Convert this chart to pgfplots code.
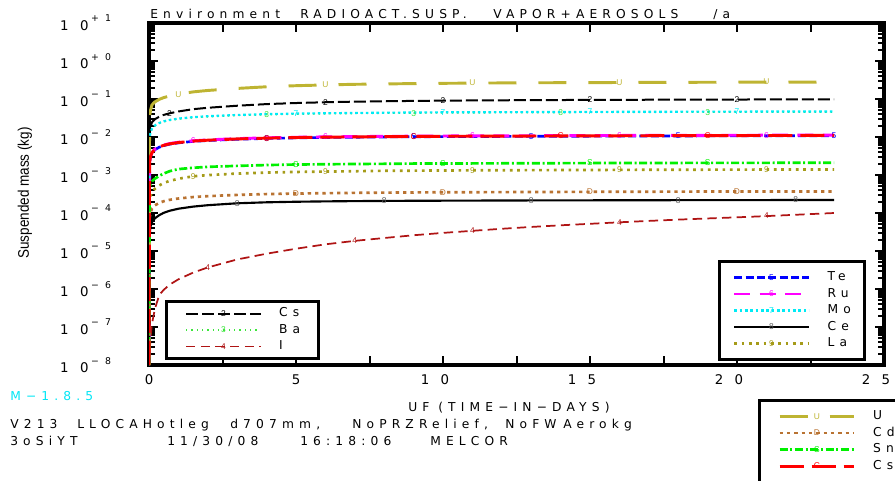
\documentclass[border=0pt]{standalone}
\usepackage{fontspec}
\usepackage{pgfplots}
\usepackage{pgfplotstable}
\pgfplotsset{compat=1.18}
\setmainfont{Liberation Sans}
\newfontfamily\widef[LetterSpace=42]{DejaVu Sans}
\newfontfamily\dejav{DejaVu Sans}
\newfontfamily\narrowf[FakeStretch=0.88]{Liberation Sans}
\newcommand{\txf}{\widef\fontsize{9.2}{10}\selectfont}
\newcommand{\tkf}{\dejav\fontsize{10}{12}\selectfont}
\newcommand{\spf}{\dejav\fontsize{7}{8}\selectfont}
\newcommand{\mkf}{\normalfont\fontsize{6.3}{7}\selectfont}
\newcommand{\ylf}{\narrowf\fontsize{11.5}{13}\selectfont}
\newcommand{\yt}[2]{1\hspace{8.5pt}0\hspace{2pt}\raisebox{6.5pt}{\spf #1\hspace{4.5pt}#2}}
\newcommand{\xtt}[2]{#1\hspace{8.5pt}#2\kern12pt}
\newcommand{\tm}[2]{{\mkf\color{#1}#2}}
\definecolor{cU}{RGB}{190,180,50}
\definecolor{cMo}{RGB}{0,235,245}
\definecolor{cBa}{RGB}{60,230,60}
\definecolor{cTe}{RGB}{0,0,255}
\definecolor{cRu}{RGB}{255,0,255}
\definecolor{cCsI}{RGB}{255,0,0}
\definecolor{cSn}{RGB}{0,240,0}
\definecolor{cLa}{RGB}{165,155,25}
\definecolor{cCd}{RGB}{185,115,50}
\definecolor{cI}{RGB}{175,20,20}
\definecolor{cM}{RGB}{0,230,245}
\definecolor{cCe}{RGB}{90,90,90}

\pgfplotstableread{
t U Cs Mo Ba Te Ru CsI Sn La Cd Ce I
0 1e-8 1e-8 1e-8 1e-8 1e-8 1e-8 1e-8 1e-8 1e-8 1e-8 1e-8 1e-8
0.02 .034 .0118 .0094 .009 .00216 .00224 .0022 .00042 .00021 .000074 .0000264 2e-8
0.05 .05 .0176 .0132 .0126 .00302 .00314 .00308 .00059 .00028 .000104 .000044 5e-8
0.1 .07 .0245 .0165 .0158 .00378 .00392 .00385 .00069 .00035 .00013 .0000572 1.2e-7
0.2 .084 .0294 .0202 .0194 .00464 .00482 .00473 .0008 .000434 .000159 .0000726 3e-7
0.35 .098 .0343 .0235 .0225 .0054 .0056 .0055 .00095 .000532 .000185 .000088 7e-7
0.5 .109 .0382 .0259 .0248 .00594 .00616 .00605 .00109 .000616 .000204 .0001012 9.5e-7
0.7 .12 .0421 .0282 .027 .00648 .00672 .0066 .00126 .0007 .000222 .0001144 1.3e-6
1 .134 .047 .0306 .0293 .00702 .00728 .00715 .00143 .000798 .000241 .0001298 1.8e-6
1.5 .154 .054 .0334 .032 .00767 .00795 .00781 .00155 .000924 .000263 .0001474 2.7e-6
2 .168 .0588 .0353 .0338 .0081 .0084 .00825 .00164 .000994 .000278 .0001606 3.7e-6
3 .19 .0666 .0381 .0365 .00875 .00907 .00891 .00174 .001092 .0003 .0001804 6e-6
4 .21 .0735 .04 .0383 .00918 .00952 .00935 .00183 .001162 .000315 .0001914 8.5e-6
5 .224 .0784 .0414 .0396 .0095 .00986 .00968 .00189 .001204 .000326 .000198 1.15e-5
6 .235 .0823 .0423 .0405 .00972 .01008 .0099 .00192 .001232 .000333 .0002024 1.5e-5
7 .244 .0853 .043 .0412 .00988 .01025 .01007 .00195 .00126 .000339 .0002057 1.85e-5
8 .249 .0872 .0437 .0419 .01004 .01042 .01023 .00197 .001288 .000344 .0002079 2.2e-5
9 .255 .0892 .0442 .0423 .01015 .01053 .01034 .002 .001302 .000348 .0002101 2.6e-5
10 .259 .0907 .0447 .0428 .01026 .01064 .01045 .002 .001316 .000352 .0002112 3e-5
11 .262 .0916 .0449 .043 .01031 .0107 .01051 .00202 .00133 .000353 .0002123 3.4e-5
12 .265 .0926 .0451 .0432 .01037 .01075 .01056 .00203 .001337 .000355 .0002134 3.85e-5
13 .267 .0934 .0454 .0434 .01042 .01081 .01062 .00204 .001344 .000357 .0002145 4.3e-5
14 .269 .0941 .0456 .0437 .01048 .01086 .01067 .00205 .001351 .000359 .0002152 4.75e-5
15 .27 .0947 .0458 .0439 .01053 .01092 .01073 .00206 .001358 .000361 .0002158 5.2e-5
16 .272 .0953 .0461 .0441 .01058 .01098 .01078 .00207 .001365 .000363 .0002165 5.7e-5
17 .274 .0957 .0462 .0443 .01063 .01102 .01082 .00207 .001372 .000364 .0002171 6.2e-5
18 .275 .0962 .0464 .0445 .01067 .01107 .01087 .00208 .001378 .000366 .0002178 6.7e-5
19 .276 .0966 .0466 .0446 .0107 .0111 .0109 .00209 .001383 .000367 .0002182 7.2e-5
20 .277 .097 .0467 .0447 .01074 .01113 .01093 .00209 .001387 .000368 .0002187 7.7e-5
21 .278 .0973 .0468 .0448 .01076 .01116 .01096 .00209 .001392 .000369 .0002191 8.3e-5
22 .279 .0976 .0469 .0449 .01078 .01118 .01098 .0021 .001396 .000369 .0002196 9e-5
23.3 .28 .098 .047 .045 .0108 .0112 .011 .0021 .0014 .00037 .00022 1e-4
}\data

\pgfplotsset{
 legend image code/.code={\draw[mark repeat=2,mark phase=2,#1] plot coordinates {(0pt,0pt) (28pt,0pt) (56pt,0pt)};},
 legend cell align=left,
 every axis legend/.append style={font=\txf, draw=black, line width=2.2pt, fill=white,
     inner xsep=14pt, row sep=4.4pt, column sep=13pt,
     nodes={inner sep=0pt, text height=6.3pt, text depth=1.7pt}},
}

\begin{document}
\begin{tikzpicture}[x=0.75pt,y=-0.75pt]
\path[use as bounding box] (0,0) rectangle (895,480);
\clip (0,0) rectangle (895,480);
\coordinate (O) at (149,365);

% axis A: Cs, Ba, I
\begin{axis}[at={(O)}, anchor=south west, scale only axis,
  width=551.25pt, height=256.5pt,
  xmin=0, xmax=25, ymode=log, ymin=1e-8, ymax=10,
  axis line style={line width=3.4pt},
  tick align=inside, tick pos=both,
  major tick length=7pt, minor tick length=4.5pt,
  every tick/.style={black, line width=1.5pt},
  xtick={0,2.5,...,25},
  xticklabels={0,,5,,\xtt{1}{0},,\xtt{1}{5},,\xtt{2}{0},,\xtt{2}{5}},
  xticklabel style={font=\tkf, yshift=-4pt},
  ytick={1e-8,1e-7,1e-6,1e-5,1e-4,1e-3,1e-2,1e-1,1,10},
  minor ytick={2e-8,3e-8,4e-8,5e-8,6e-8,7e-8,8e-8,9e-8,
    2e-7,3e-7,4e-7,5e-7,6e-7,7e-7,8e-7,9e-7,
    2e-6,3e-6,4e-6,5e-6,6e-6,7e-6,8e-6,9e-6,
    2e-5,3e-5,4e-5,5e-5,6e-5,7e-5,8e-5,9e-5,
    2e-4,3e-4,4e-4,5e-4,6e-4,7e-4,8e-4,9e-4,
    2e-3,3e-3,4e-3,5e-3,6e-3,7e-3,8e-3,9e-3,
    2e-2,3e-2,4e-2,5e-2,6e-2,7e-2,8e-2,9e-2,
    2e-1,3e-1,4e-1,5e-1,6e-1,7e-1,8e-1,9e-1,
    2,3,4,5,6,7,8,9},
  yticklabels={\yt{−}{8},\yt{−}{7},\yt{−}{6},\yt{−}{5},\yt{−}{4},\yt{−}{3},\yt{−}{2},\yt{−}{1},\yt{+}{0},\yt{+}{1}},
  yticklabel style={font=\tkf, xshift=-25pt},
  legend style={at={(0.0218,0.190)}, anchor=north west, inner ysep=5pt},
]
\addplot[black, line width=1.5pt, dash pattern=on 9pt off 3pt, legend image post style={mark=text, text mark={\tm{black}{2}}}] table[x=t,y=Cs]{\data};
\addlegendentry{Cs}
\addplot[only marks, mark=text, text mark={\tm{black}{2}}, mark indices={8,15,19,24,29}, forget plot] table[x=t,y=Cs]{\data};
\addplot[cBa, line width=0.9pt, dash pattern=on 1pt off 3pt, legend image post style={mark=text, text mark={\tm{cBa}{3}}}] table[x=t,y=Ba]{\data};
\addlegendentry{Ba}
\addplot[cI, line width=1.3pt, dash pattern=on 7pt off 4pt, legend image post style={mark=text, text mark={\tm{cI}{4}}}] table[x=t,y=I]{\data};
\addlegendentry{I}
\addplot[only marks, mark=text, text mark={\tm{cI}{4}}, mark indices={11,16,20,25,30}, forget plot] table[x=t,y=I]{\data};
\end{axis}

% axis B: Te, Ru, Mo, Ce, La
\begin{axis}[at={(O)}, anchor=south west, scale only axis,
  width=551.25pt, height=256.5pt,
  xmin=0, xmax=25, ymode=log, ymin=1e-8, ymax=10, hide axis,
  legend style={at={(0.774,0.307)}, anchor=north west, inner ysep=8pt, inner xsep=10pt},
]
\addplot[cTe, line width=2pt, dash pattern=on 6pt off 2.5pt, legend image post style={mark=text, text mark={\tm{cTe}{5}}}] table[x=t,y=Te]{\data};
\addlegendentry{Te}
\addplot[only marks, mark=text, text mark={\tm{cTe}{5}}, mark indices={13,18,22,27,32}, forget plot] table[x=t,y=Te]{\data};
\addplot[cRu, line width=2.2pt, dash pattern=on 12pt off 7pt, legend image post style={mark=text, text mark={\tm{cRu}{6}}}] table[x=t,y=Ru]{\data};
\addlegendentry{Ru}
\addplot[only marks, mark=text, text mark={\tm{cRu}{6}}, mark indices={10,15,20,25,30}, forget plot] table[x=t,y=Ru]{\data};
\addplot[cMo, line width=1.6pt, dash pattern=on 2pt off 2pt, legend image post style={mark=text, text mark={\tm{cMo}{7}}}] table[x=t,y=Mo]{\data};
\addlegendentry{Mo}
\addplot[only marks, mark=text, text mark={\tm{cMo}{7}}, mark indices={14,19,24,29}, forget plot] table[x=t,y=Mo]{\data};
\addplot[black, line width=1.6pt, legend image post style={mark=text, text mark={\tm{cCe}{8}}}] table[x=t,y=Ce]{\data};
\addlegendentry{Ce}
\addplot[only marks, mark=text, text mark={\tm{cCe}{8}}, mark indices={12,17,22,27,31}, forget plot] table[x=t,y=Ce]{\data};
\addplot[cLa, line width=2pt, dash pattern=on 2pt off 3.5pt, legend image post style={mark=text, text mark={\tm{cLa}{9}}}] table[x=t,y=La]{\data};
\addlegendentry{La}
\addplot[only marks, mark=text, text mark={\tm{cLa}{9}}, mark indices={10,15,20,25,30}, forget plot] table[x=t,y=La]{\data};
\end{axis}

% axis C: U, Cd, Sn, CsI
\begin{axis}[at={(O)}, anchor=south west, scale only axis,
  width=551.25pt, height=256.5pt,
  xmin=0, xmax=25, ymode=log, ymin=1e-8, ymax=10, hide axis,
  legend style={at={(0.8286,-0.0994)}, anchor=north west, inner ysep=8pt},
]
\addplot[only marks, mark=text, text mark={\tm{cBa}{3}}, mark indices={13,18,23,28}, forget plot] table[x=t,y=Ba]{\data};
\addplot[cU, line width=2.2pt, dash pattern=on 21pt off 16.5pt, legend image post style={mark=text, text mark={\tm{cU}{U}}}] table[x=t,y=U]{\data};
\addlegendentry{U}
\addplot[only marks, mark=text, text mark={\tm{cU}{U}}, mark indices={9,15,20,25,30}, forget plot] table[x=t,y=U]{\data};
\addplot[cCd, line width=2pt, dash pattern=on 2.5pt off 3pt, legend image post style={mark=text, text mark={\tm{cCd}{D}}}] table[x=t,y=Cd]{\data};
\addlegendentry{Cd}
\addplot[only marks, mark=text, text mark={\tm{cCd}{D}}, mark indices={14,19,24,29}, forget plot] table[x=t,y=Cd]{\data};
\addplot[cSn, line width=2pt, dash pattern=on 6pt off 2pt on 1.5pt off 2pt, legend image post style={mark=text, text mark={\tm{cSn}{S}}}] table[x=t,y=Sn]{\data};
\addlegendentry{Sn}
\addplot[only marks, mark=text, text mark={\tm{cSn}{S}}, mark indices={14,19,24,28}, forget plot] table[x=t,y=Sn]{\data};
\addplot[cCsI, line width=2.2pt, dash pattern=on 18pt off 6pt, legend image post style={mark=text, text mark={\tm{cCsI}{C}}}] table[x=t,y=CsI]{\data};
\addlegendentry{CsI}
\addplot[only marks, mark=text, text mark={\tm{cCsI}{C}}, mark indices={13,18,23,28}, forget plot] table[x=t,y=CsI]{\data};
\end{axis}

% texts
\node[anchor=base west, font=\txf, inner sep=0pt] at (150,18) {Environment};
\node[anchor=base west, font=\txf, inner sep=0pt] at (300,18) {RADIOACT.SUSP.};
\node[anchor=base west, font=\txf, inner sep=0pt] at (493,18) {VAPOR+AEROSOLS};
\node[anchor=base west, font=\txf, inner sep=0pt] at (713,18) {/a};
\node[rotate=90, font=\ylf, inner sep=0pt] at (25,193) {Suspended mass (kg)};
\node[anchor=base west, font=\txf, inner sep=0pt, text=cM] at (10,400) {M−1.8.5};
\node[anchor=base west, font=\txf, inner sep=0pt] at (408,411) {UF};
\node[anchor=base west, font=\txf, inner sep=0pt] at (438,411) {(TIME−IN−DAYS)};
\node[anchor=base west, font=\txf, inner sep=0pt] at (10,428) {V213};
\node[anchor=base west, font=\txf, inner sep=0pt] at (77,428) {LLOCAHotleg};
\node[anchor=base west, font=\txf, inner sep=0pt] at (230,428) {d707mm,};
\node[anchor=base west, font=\txf, inner sep=0pt] at (352,428) {NoPRZRelief,};
\node[anchor=base west, font=\txf, inner sep=0pt] at (505,428) {NoFW};
\node[anchor=base west, font=\txf, inner sep=0pt] at (563,428) {Aerokg};
\node[anchor=base west, font=\txf, inner sep=0pt] at (10,445) {3oSiYT};
\node[anchor=base west, font=\txf, inner sep=0pt] at (167,445) {11/30/08};
\node[anchor=base west, font=\txf, inner sep=0pt] at (300,445) {16:18:06};
\node[anchor=base west, font=\txf, inner sep=0pt] at (430,445) {MELCOR};
\end{tikzpicture}
\end{document}
